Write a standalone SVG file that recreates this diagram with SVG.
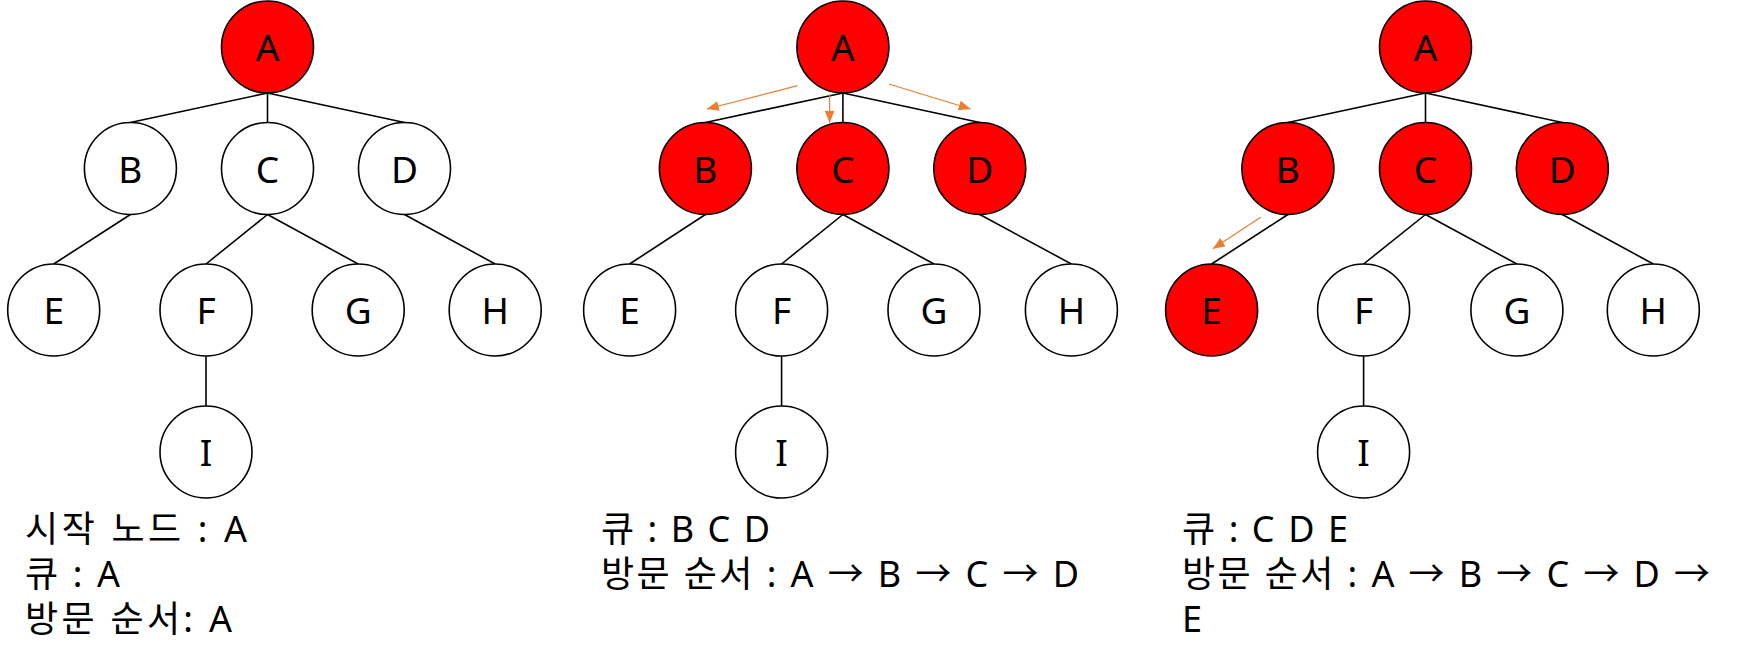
<svg xmlns="http://www.w3.org/2000/svg" width="1748" height="664" viewBox="0 0 1748 664">
<defs>
<style>
.n{stroke:#000;stroke-width:1.6;fill:#fff}
.v{fill:#ff0000}
.e{stroke:#000;stroke-width:1.6;fill:none}
.o{stroke:#ED7D31;stroke-width:1.2;fill:none;marker-end:url(#ah)}
.lb{font-family:"Noto Sans","Noto Sans CJK KR",sans-serif;font-size:37px;text-anchor:middle;fill:#000}
.tx{font-family:"Noto Sans","Noto Sans CJK KR",sans-serif;font-size:36px;fill:#000}
</style>
<marker id="ah" markerUnits="userSpaceOnUse" markerWidth="14" markerHeight="12" refX="12" refY="5" orient="auto">
<path d="M0,0 L12,5 L0,10 z" fill="#ED7D31"/>
</marker>
</defs>
<rect width="1748" height="664" fill="#fff"/>
<g id="connectors">
<path class="e" d="M267.5,93 L130.4,122.5 M267.5,93 L267.5,122.5 M267.5,93 L404.5,122.5 M130.4,214.5 L53.7,264 M267.5,214.5 L206,264 M267.5,214.5 L358.2,264 M404.5,214.5 L495.2,264 M206,356 L206,406"/>
<path class="e" d="M842.9,93 L705.4,122.5 M842.9,93 L842.9,122.5 M842.9,93 L979.8,122.5 M705.4,214.5 L629.6,264 M842.9,214.5 L781.6,264 M842.9,214.5 L934,264 M979.8,214.5 L1071.4,264 M781.6,356 L781.6,406"/>
<path class="e" d="M1425.5,93 L1287.9,122.5 M1425.5,93 L1425.5,122.5 M1425.5,93 L1562.3,122.5 M1287.9,214.5 L1211.6,264 M1425.5,214.5 L1363.6,264 M1425.5,214.5 L1516.9,264 M1562.3,214.5 L1653.3,264 M1363.6,356 L1363.6,406"/>
<line class="o" x1="797.5" y1="85.7" x2="706.8" y2="109"/>
<line class="o" x1="829.6" y1="94.3" x2="829.6" y2="122.7"/>
<line class="o" x1="888.9" y1="84" x2="970.7" y2="109"/>
<line class="o" x1="1260.6" y1="217.3" x2="1212.9" y2="248.7"/>
</g>
<g id="p1-A"><circle class="n v" cx="267.5" cy="47" r="46"/><text class="lb" x="267.5" y="61">A</text></g>
<g id="p1-B"><circle class="n" cx="130.4" cy="168.5" r="46"/><text class="lb" x="130.4" y="182.5">B</text></g>
<g id="p1-C"><circle class="n" cx="267.5" cy="168.5" r="46"/><text class="lb" x="267.5" y="182.5">C</text></g>
<g id="p1-D"><circle class="n" cx="404.5" cy="168.5" r="46"/><text class="lb" x="404.5" y="182.5">D</text></g>
<g id="p1-E"><circle class="n" cx="53.7" cy="310" r="46"/><text class="lb" x="53.7" y="324">E</text></g>
<g id="p1-F"><circle class="n" cx="206" cy="310" r="46"/><text class="lb" x="206" y="324">F</text></g>
<g id="p1-G"><circle class="n" cx="358.2" cy="310" r="46"/><text class="lb" x="358.2" y="324">G</text></g>
<g id="p1-H"><circle class="n" cx="495.2" cy="310" r="46"/><text class="lb" x="495.2" y="324">H</text></g>
<g id="p1-I"><circle class="n" cx="206" cy="452" r="46"/><text class="lb" x="206" y="466">I</text></g>

<g id="p2-A"><circle class="n v" cx="842.9" cy="47" r="46"/><text class="lb" x="842.9" y="61">A</text></g>
<g id="p2-B"><circle class="n v" cx="705.4" cy="168.5" r="46"/><text class="lb" x="705.4" y="182.5">B</text></g>
<g id="p2-C"><circle class="n v" cx="842.9" cy="168.5" r="46"/><text class="lb" x="842.9" y="182.5">C</text></g>
<g id="p2-D"><circle class="n v" cx="979.8" cy="168.5" r="46"/><text class="lb" x="979.8" y="182.5">D</text></g>
<g id="p2-E"><circle class="n" cx="629.6" cy="310" r="46"/><text class="lb" x="629.6" y="324">E</text></g>
<g id="p2-F"><circle class="n" cx="781.6" cy="310" r="46"/><text class="lb" x="781.6" y="324">F</text></g>
<g id="p2-G"><circle class="n" cx="934" cy="310" r="46"/><text class="lb" x="934" y="324">G</text></g>
<g id="p2-H"><circle class="n" cx="1071.4" cy="310" r="46"/><text class="lb" x="1071.4" y="324">H</text></g>
<g id="p2-I"><circle class="n" cx="781.6" cy="452" r="46"/><text class="lb" x="781.6" y="466">I</text></g>

<g id="p3-A"><circle class="n v" cx="1425.5" cy="47" r="46"/><text class="lb" x="1425.5" y="61">A</text></g>
<g id="p3-B"><circle class="n v" cx="1287.9" cy="168.5" r="46"/><text class="lb" x="1287.9" y="182.5">B</text></g>
<g id="p3-C"><circle class="n v" cx="1425.5" cy="168.5" r="46"/><text class="lb" x="1425.5" y="182.5">C</text></g>
<g id="p3-D"><circle class="n v" cx="1562.3" cy="168.5" r="46"/><text class="lb" x="1562.3" y="182.5">D</text></g>
<g id="p3-E"><circle class="n v" cx="1211.6" cy="310" r="46"/><text class="lb" x="1211.6" y="324">E</text></g>
<g id="p3-F"><circle class="n" cx="1363.6" cy="310" r="46"/><text class="lb" x="1363.6" y="324">F</text></g>
<g id="p3-G"><circle class="n" cx="1516.9" cy="310" r="46"/><text class="lb" x="1516.9" y="324">G</text></g>
<g id="p3-H"><circle class="n" cx="1653.3" cy="310" r="46"/><text class="lb" x="1653.3" y="324">H</text></g>
<g id="p3-I"><circle class="n" cx="1363.6" cy="452" r="46"/><text class="lb" x="1363.6" y="466">I</text></g>

<g id="text1">
<text class="tx" x="25" y="542.3" textLength="222" lengthAdjust="spacing">시작 노드 : A</text>
<text class="tx" x="25" y="587" textLength="95" lengthAdjust="spacing">큐 : A</text>
<text class="tx" x="25" y="632" textLength="207" lengthAdjust="spacing">방문 순서: A</text>
</g>
<g id="text2">
<text class="tx" x="601" y="541.7" textLength="169" lengthAdjust="spacing">큐 : B C D</text>
<text class="tx" x="601" y="586.7" textLength="478" lengthAdjust="spacing">방문 순서 : A → B → C → D</text>
</g>
<g id="text3">
<text class="tx" x="1182" y="541.7" textLength="166" lengthAdjust="spacing">큐 : C D E</text>
<text class="tx" x="1182" y="586.7" textLength="528" lengthAdjust="spacing">방문 순서 : A → B → C → D →</text>
<text class="tx" x="1182" y="631.7">E</text>
</g>
</svg>
